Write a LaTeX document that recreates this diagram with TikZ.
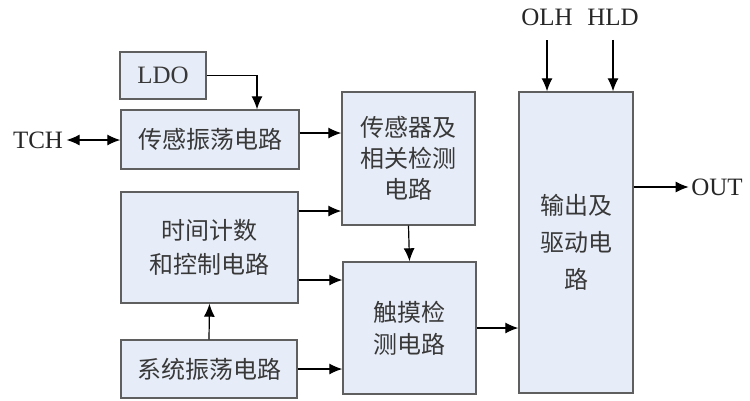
\documentclass[tikz,border=0pt]{standalone}
\usepackage{fontspec}
\setmainfont{Liberation Serif}
\newfontfamily\cjk{Noto Sans CJK SC}
\usetikzlibrary{arrows.meta,shapes}
\definecolor{boxfill}{RGB}{231,237,248}
\definecolor{boxline}{RGB}{95,95,95}
\tikzstyle{blk} = [rectangle, draw=boxline, fill=boxfill, line width=1.4pt,
    inner sep=0pt, align=center, text=black!78, font=\cjk\fontsize{24}{31}\selectfont]
\tikzstyle{pin} = [inner sep=1pt, text=black!85, font=\fontsize{25}{28}\selectfont]

\begin{document}
\begin{tikzpicture}[x=1pt,y=-1pt,->,>={Latex[length=13pt,width=11pt]},
                    line width=1.2pt]
  \useasboundingbox (0,0) rectangle (750,400);
  \node[blk,minimum width=86pt,minimum height=47pt,font=\fontsize{25}{28}\selectfont]  (ldo)  at (163,75.5)  {LDO};
  \node[blk,minimum width=178pt,minimum height=59pt]  (osc)  at (210,139.5) {传感振荡电路};
  \node[blk,minimum width=133pt,minimum height=133pt] (sens) at (408.5,158.5) {传感器及\\相关检测\\电路};
  \node[blk,minimum width=177pt,minimum height=111pt,font=\cjk\fontsize{24}{34}\selectfont] (tmr) at (209.5,247.5) {时间计数\\和控制电路};
  \node[blk,minimum width=176pt,minimum height=58pt]  (sys)  at (209,369)   {系统振荡电路};
  \node[blk,minimum width=133pt,minimum height=132pt,font=\cjk\fontsize{24}{32}\selectfont] (touch) at (409.5,328) {\raisebox{-6pt}{触摸检}\\\raisebox{-6pt}{测电路}};
  \node[blk,minimum width=114pt,minimum height=301pt,font=\cjk\fontsize{24}{37}\selectfont] (out)  at (576,242.5) {输出及\\驱动电\\路};

  \node[pin] (tch) at (38,140)  {TCH};
  \node[pin] (olh) at (547,17)  {OLH};
  \node[pin] (hld) at (613,17)  {HLD};
  \node[pin] (o)   at (717,187) {OUT};

  % taps on the box sides
  \coordinate (oscout) at ([yshift=6.5pt]osc.east);
  \coordinate (tmrhi)  at ([yshift=36.5pt]tmr.east);
  \coordinate (tmrlo)  at ([yshift=-32.5pt]tmr.east);
  \coordinate (outr)   at ([yshift=55.5pt]out.east);

  \draw (ldo.east) -| ([xshift=47pt]osc.north);
  \path (tch.east) edge[<->,shorten <=2pt] (osc.west |- tch.east)
  (oscout) edge (oscout -| sens.west)
  (tmrhi) edge (tmrhi -| sens.west)
  (tmrlo) edge (tmrlo -| touch.west)
  (sys.east) edge (touch.west |- sys.east)
  (sys.north) edge (tmr.south)
  (sens.south) edge (touch.north)
  (touch.east) edge (out.west |- touch.east)
  (olh.south) edge[shorten <=13pt] (olh.south |- out.north)
  (hld.south) edge[shorten <=13pt] (hld.south |- out.north)
  (outr) edge[shorten >=1pt] (o.west);
\end{tikzpicture}
\end{document}
